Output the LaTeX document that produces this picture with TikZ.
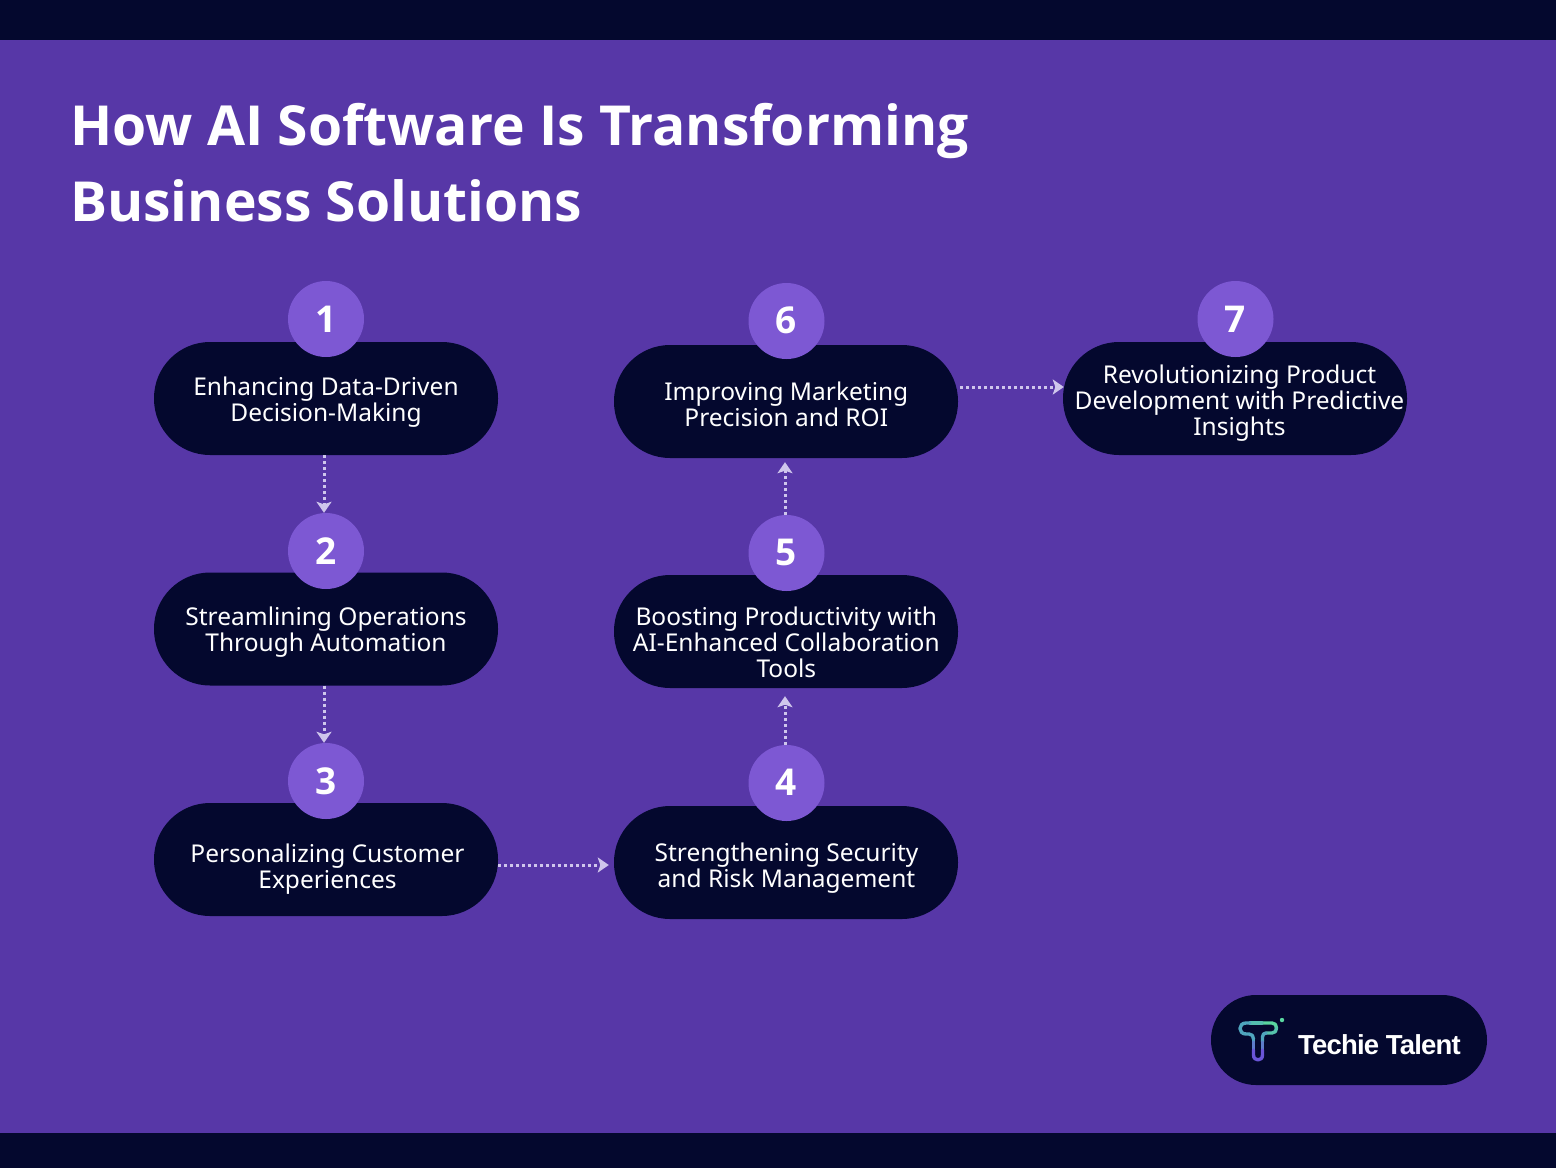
\documentclass[tikz,border=0pt]{standalone}
\usepackage{fontspec}
\setmainfont{Noto Sans}
\newfontfamily\boldfont{Open Sans}[BoldFont={* Bold}]
\newfontfamily\logofont{Liberation Sans}
\usetikzlibrary{arrows.meta}
\definecolor{bgpurple}{HTML}{5737A7}
\definecolor{navy}{HTML}{04082E}
\definecolor{badgecol}{HTML}{7D58D3}
\definecolor{arrowcol}{HTML}{CFC6EC}
\definecolor{logoA}{HTML}{5AD6A0}
\definecolor{logoB}{HTML}{4FA5BE}
\definecolor{logoC}{HTML}{6A55D8}
\tikzset{
  x=1pt,y=-1pt,
  pill/.style={fill=navy,draw=none,minimum width=344pt,minimum height=113pt,rounded corners=56pt,inner sep=0pt},
  badge/.style={circle,fill=badgecol,draw=none,minimum size=76pt,inner sep=0pt,text=white,font=\boldfont\fontsize{37}{37}\selectfont\bfseries},
  pilltext/.style={text=white,align=center,inner sep=0pt,font=\fontsize{24.5}{26}\selectfont},
  titletext/.style={anchor=base west,inner sep=0pt,text=white,font=\boldfont\fontsize{55.2}{56}\selectfont\bfseries},
  flow/.style={draw=arrowcol,line width=3pt,dash pattern=on 3pt off 3pt,-{Stealth[length=11pt,width=15pt,inset=2.5pt,sep=0pt]}},
  logostroke/.style={line width=3.4pt,line cap=round,line join=round},
}
\begin{document}
\begin{tikzpicture}
\useasboundingbox (0,0) rectangle (1556,1168);
\fill[bgpurple] (0,0) rectangle (1556,1168);
\fill[navy] (0,0) rectangle (1556,40);
\fill[navy] (0,1133) rectangle (1556,1168);

\node[titletext] (t1) at (70,145) {How AI Software Is Transforming};
\node[titletext] (t2) at (70,221) {Business Solutions};

\node[pill] (p1) at (326,398.5) {};
\node[pill] (p2) at (326,629) {};
\node[pill] (p3) at (326,859.5) {};
\node[pill] (p4) at (786,862.5) {};
\node[pill] (p5) at (786,631.5) {};
\node[pill] (p6) at (786,401.5) {};
\node[pill] (p7) at (1235,398.5) {};

\node[badge] (b1) at (326,319) {\raisebox{-1pt}{1}};
\node[badge] (b2) at (326,551) {2};
\node[badge] (b3) at (326,781) {3};
\node[badge] (b4) at (786.5,783) {\raisebox{2pt}{4}};
\node[badge] (b5) at (786.5,553) {\raisebox{2pt}{5}};
\node[badge] (b6) at (786.5,321) {\raisebox{1pt}{6}};
\node[badge] (b7) at (1235.5,319) {\raisebox{-1pt}{7}};

\node[pilltext] (x1) at (326,402.5) {Enhancing Data-Driven\\Decision-Making};
\node[pilltext] (x2) at (326,632.5) {Streamlining Operations\\Through Automation};
\node[pilltext] (x3) at (327.5,869.5) {Personalizing Customer\\Experiences};
\node[pilltext] (x4) at (786.5,868) {Strengthening Security\\and Risk Management};
\node[pilltext] (x5) at (786.3,642) {Boosting Productivity with\\AI-Enhanced Collaboration\\Tools};
\node[pilltext] (x6) at (786.3,404.3) {Improving Marketing\\Precision and ROI};
\node[pilltext] (x7) at (1239.5,403.5) {Revolutionizing Product\\Development with Predictive\\Insights};

\draw[flow] ([xshift=-2pt]p1.south) -- ([xshift=-2pt]b2.north);
\draw[flow] ([xshift=-2pt]p2.south) -- ([xshift=-2pt]b3.north);
\draw[flow] ([yshift=-5.5pt]p3.east) -- ([yshift=-2.5pt,xshift=-5pt]p4.west);
\draw[flow] ([xshift=-1.5pt]b4.north) -- ([xshift=-1pt,yshift=-8pt]p5.south);
\draw[flow] ([xshift=-1.5pt]b5.north) -- ([xshift=-1pt,yshift=-4pt]p6.south);
\draw[flow] ([xshift=2pt,yshift=14.5pt]p6.east) -- ([xshift=1pt,yshift=11.5pt]p7.west);

\node[pill,minimum width=276pt,minimum height=90pt,rounded corners=45pt] (lg) at (1349,1040) {};
\node[anchor=base west,inner sep=0pt,text=white,font=\logofont\fontsize{27.5}{28}\selectfont\bfseries] (lt) at (1298,1054) {\addfontfeature{LetterSpace=-3}Techie Talent};
\draw[logostroke,logoA] (1276.5,1028) .. controls (1276.5,1025) and (1275,1023) .. (1272,1023) -- (1262,1023);
\draw[logostroke,logoA!50!logoB] (1262,1023) -- (1250,1023);
\draw[logostroke,logoB] (1250,1023) -- (1246,1023) .. controls (1238,1023) and (1238,1034) .. (1246,1034) -- (1249,1034) .. controls (1252,1034) and (1253.5,1036) .. (1253.5,1039);
\draw[logostroke,logoA!60!logoB] (1276.5,1028) .. controls (1276.5,1031) and (1275,1033) .. (1272,1033) -- (1266,1033);
\draw[logostroke,logoB] (1266,1033) .. controls (1264,1033) and (1262.5,1034.5) .. (1262.5,1037) -- (1262.5,1042);
\draw[logostroke,logoB] (1253.5,1039) -- (1253.5,1042);
\draw[logostroke,logoB!50!logoC] (1253.5,1042) -- (1253.5,1050);
\draw[logostroke,logoB!50!logoC] (1262.5,1042) -- (1262.5,1050);
\draw[logostroke,logoC] (1253.5,1050) -- (1253.5,1055) .. controls (1253.5,1061.5) and (1262.5,1061.5) .. (1262.5,1055) -- (1262.5,1050);
\fill[logoA] (1282,1020) circle (2.2pt);
\end{tikzpicture}
\end{document}
